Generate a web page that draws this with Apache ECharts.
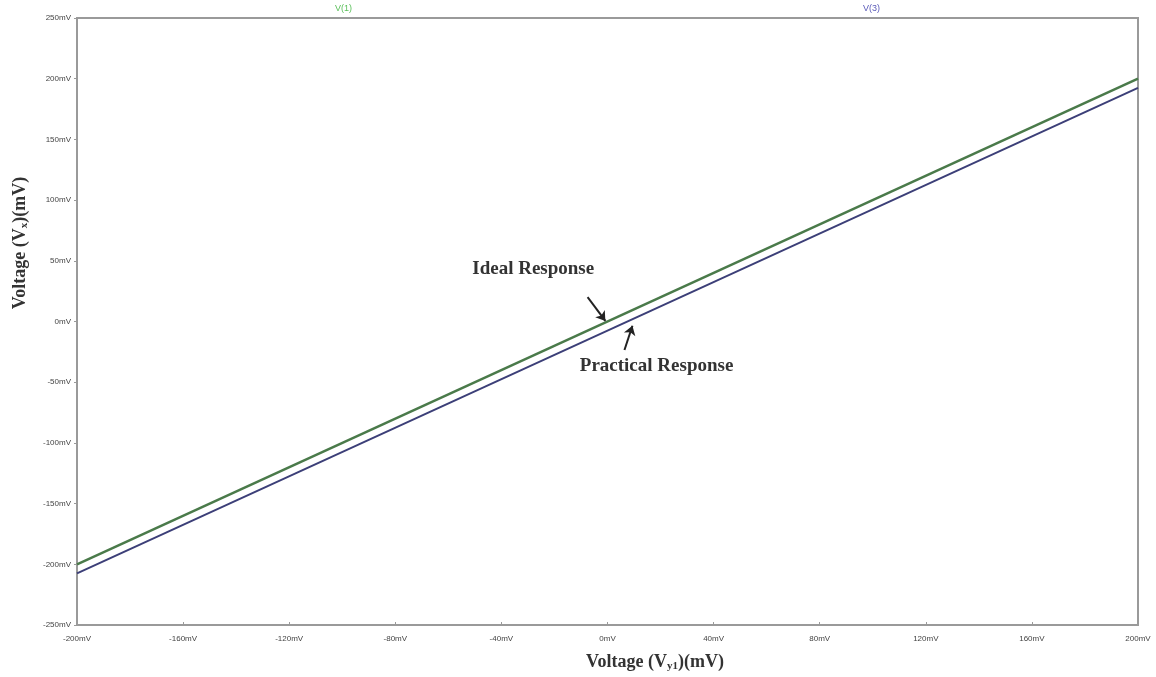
<!DOCTYPE html>
<html>
<head>
<meta charset="utf-8">
<script src="https://cdn.jsdelivr.net/npm/echarts@6/dist/echarts.min.js"></script>
<style>html,body{margin:0;padding:0;background:#fff}#c{width:1156px;height:677px}</style>
</head>
<body>
<div id="c"></div>
<script>
const xValues = [-200, 200];
const idealValues = [-200, 200];
const practicalValues = [-207.5, 192.5];
const xTicks = [-200, -160, -120, -80, -40, 0, 40, 80, 120, 160, 200];
const yTicks = [-250, -200, -150, -100, -50, 0, 50, 100, 150, 200, 250];

const chart = echarts.init(document.getElementById('c'));
const serif = '"Liberation Serif", "DejaVu Serif", serif';
const tickFont = {color: '#444', fontSize: 8, fontFamily: 'Liberation Sans, sans-serif'};

chart.setOption({
  animation: false,
  backgroundColor: '#fff',
  grid: {left: 77, right: 18, top: 18, bottom: 52, show: true, borderColor: '#9a9a9a', borderWidth: 2},
  xAxis: {
    type: 'value', min: -200, max: 200, interval: 40,
    axisLine: {show: true, onZero: false, lineStyle: {color: '#9a9a9a', width: 2}},
    axisTick: {show: true, inside: true, length: 3, lineStyle: {color: '#9a9a9a'}},
    splitLine: {show: false},
    axisLabel: Object.assign({margin: 10, formatter: v => v + 'mV'}, tickFont)
  },
  yAxis: {
    type: 'value', min: -250, max: 250, interval: 50,
    axisLine: {show: true, onZero: false, lineStyle: {color: '#9a9a9a', width: 2}},
    axisTick: {show: true, length: 3, lineStyle: {color: '#9a9a9a'}},
    splitLine: {show: false},
    axisLabel: Object.assign({margin: 6, formatter: v => v + 'mV'}, tickFont)
  },
  series: [
    {
      name: 'V(1)', type: 'line', symbol: 'none',
      data: xValues.map((x, i) => [x, idealValues[i]]),
      lineStyle: {color: '#4a7a4a', width: 2.5},
      markLine: {
        silent: true, symbol: ['none', 'arrow'], symbolSize: 9,
        lineStyle: {color: '#222', width: 2, type: 'solid'},
        label: {show: false},
        data: [
          [{coord: [-7.5, 20]}, {coord: [-0.8, 0.5]}],
          [{coord: [6.4, -23.5]}, {coord: [9.4, -3.5]}]
        ]
      },
      markPoint: {
        silent: true, symbol: 'circle', symbolSize: 0,
        label: {show: true, color: '#333', fontSize: 19, fontWeight: 'bold', fontFamily: serif},
        data: [
          {coord: [-28, 43], label: {formatter: 'Ideal Response'}},
          {coord: [18.5, -36.5], label: {formatter: 'Practical Response'}}
        ]
      }
    },
    {
      name: 'V(3)', type: 'line', symbol: 'none',
      data: xValues.map((x, i) => [x, practicalValues[i]]),
      lineStyle: {color: '#3c3f78', width: 2}
    }
  ],
  graphic: [
    {type: 'text', left: 335, top: 4, style: {text: 'V(1)', fill: '#5cc05c', font: '9px Liberation Sans, sans-serif'}},
    {type: 'text', left: 863, top: 4, style: {text: 'V(3)', fill: '#5a5ab8', font: '9px Liberation Sans, sans-serif'}},
    {
      type: 'text', x: 655, y: 662,
      style: {
        text: '{a|Voltage (V}{s|y1}{a|)(mV)}', align: 'center', verticalAlign: 'middle',
        rich: {
          a: {fontSize: 18, fontWeight: 'bold', fontFamily: serif, fill: '#333'},
          s: {fontSize: 11, fontWeight: 'bold', fontFamily: serif, fill: '#333', padding: [8, 0, 0, 0]}
        }
      }
    },
    {
      type: 'text', x: 20, y: 243, rotation: Math.PI / 2,
      style: {
        text: '{a|Voltage (V}{s|x}{a|)(mV)}', align: 'center', verticalAlign: 'middle',
        rich: {
          a: {fontSize: 18, fontWeight: 'bold', fontFamily: serif, fill: '#333'},
          s: {fontSize: 11, fontWeight: 'bold', fontFamily: serif, fill: '#333', padding: [8, 0, 0, 0]}
        }
      }
    }
  ]
});
</script>
</body>
</html>
